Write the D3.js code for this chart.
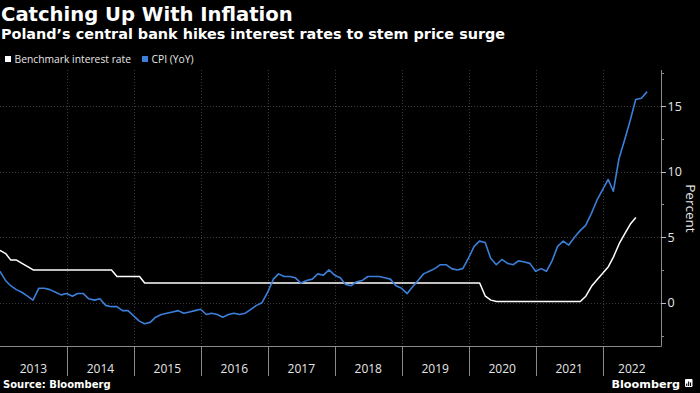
<!DOCTYPE html>
<html><head><meta charset="utf-8">
<script src="https://cdn.jsdelivr.net/npm/d3@7"></script>
<style>html,body{margin:0;padding:0;background:#000;} svg{display:block;}</style>
</head><body>
<svg id="chart" width="700" height="393"></svg>
<script>
// ---------- data ----------
const titleText = "Catching Up With Inflation";
const subtitleText = "Poland’s central bank hikes interest rates to stem price surge";
const seriesNames = ["Benchmark interest rate", "CPI (YoY)"];
const yearLabels = ["2013","2014","2015","2016","2017","2018","2019","2020","2021","2022"];
const yMajorTicks = [0, 5, 10, 15];
const yMinorTicks = [-2.5, 2.5, 7.5, 12.5, 17.5];
const yAxisTitle = "Percent";
const sourceText = "Source: Bloomberg";

// CPI YoY, monthly, first month Dec 2012 (plotted at month end)
const cpiFirstMonth = [2012, 11];
const cpiValues = [
  2.4,
  1.7, 1.3, 1.0, 0.8, 0.5, 0.2, 1.1, 1.1, 1.0, 0.8, 0.6, 0.7,
  0.5, 0.7, 0.7, 0.3, 0.2, 0.3, -0.2, -0.3, -0.3, -0.6, -0.6, -1.0,
  -1.4, -1.6, -1.5, -1.1, -0.9, -0.8, -0.7, -0.6, -0.8, -0.7, -0.6, -0.5,
  -0.9, -0.8, -0.9, -1.1, -0.9, -0.8, -0.9, -0.8, -0.5, -0.2, 0.0, 0.8,
  1.8, 2.2, 2.0, 2.0, 1.9, 1.5, 1.7, 1.8, 2.2, 2.1, 2.5, 2.1,
  1.9, 1.4, 1.3, 1.6, 1.7, 2.0, 2.0, 2.0, 1.9, 1.8, 1.3, 1.1,
  0.7, 1.2, 1.7, 2.2, 2.4, 2.6, 2.9, 2.9, 2.6, 2.5, 2.6, 3.4,
  4.3, 4.7, 4.6, 3.4, 2.9, 3.3, 3.0, 2.9, 3.2, 3.1, 3.0, 2.4,
  2.6, 2.4, 3.2, 4.3, 4.7, 4.4, 5.0, 5.5, 5.9, 6.8, 7.8, 8.6,
  9.4, 8.5, 11.0, 12.4, 13.9, 15.5, 15.6, 16.1
];

// Benchmark rate, monthly, first month Jan 2013 (plotted at month start)
const rateFirstMonth = [2013, 0];
const rateValues = [
  4.0, 3.75, 3.25, 3.25, 3.0, 2.75, 2.5, 2.5, 2.5, 2.5, 2.5, 2.5,
  2.5, 2.5, 2.5, 2.5, 2.5, 2.5, 2.5, 2.5, 2.5, 2.0, 2.0, 2.0,
  2.0, 2.0, 1.5, 1.5, 1.5, 1.5, 1.5, 1.5, 1.5, 1.5, 1.5, 1.5,
  1.5, 1.5, 1.5, 1.5, 1.5, 1.5, 1.5, 1.5, 1.5, 1.5, 1.5, 1.5,
  1.5, 1.5, 1.5, 1.5, 1.5, 1.5, 1.5, 1.5, 1.5, 1.5, 1.5, 1.5,
  1.5, 1.5, 1.5, 1.5, 1.5, 1.5, 1.5, 1.5, 1.5, 1.5, 1.5, 1.5,
  1.5, 1.5, 1.5, 1.5, 1.5, 1.5, 1.5, 1.5, 1.5, 1.5, 1.5, 1.5,
  1.5, 1.5, 1.5, 0.5, 0.2, 0.1, 0.1, 0.1, 0.1, 0.1, 0.1, 0.1,
  0.1, 0.1, 0.1, 0.1, 0.1, 0.1, 0.1, 0.1, 0.1, 0.5, 1.25, 1.75,
  2.25, 2.75, 3.5, 4.5, 5.25, 6.0, 6.5
];

const xDomain = [new Date(2013, 0, 1), new Date(2022, 10, 15)];
const yDomain = [-3.3, 17.75];

// ---------- chart ----------
const svg = d3.select("#chart");
const plot = { left: 0, right: 661, top: 70, bottom: 346 };
const x = d3.scaleTime().domain(xDomain).range([plot.left, plot.right]);
const y = d3.scaleLinear().domain(yDomain).range([plot.bottom, plot.top]);

const cpiData = cpiValues.map((v, i) => ({ d: new Date(cpiFirstMonth[0], cpiFirstMonth[1] + i + 1, 0), v }));
const rateData = rateValues.map((v, i) => ({ d: new Date(rateFirstMonth[0], rateFirstMonth[1] + i, 1), v }));

const gridColor = "#3a3a3a";
const axisColor = "#8a8a8a";
const textColor = "#e6e6e6";
const blue = "#3b7fd9";

// horizontal grid
svg.append("g").selectAll("line").data(yMajorTicks).join("line")
  .attr("x1", plot.left).attr("x2", plot.right)
  .attr("y1", d => Math.round(y(d)) + 0.5).attr("y2", d => Math.round(y(d)) + 0.5)
  .attr("stroke", gridColor).attr("stroke-width", 1).attr("stroke-dasharray", "1,2");

// vertical grid at year starts
const yearStarts = yearLabels.map(s => new Date(+s, 0, 1));
svg.append("g").selectAll("line").data(yearStarts.slice(1)).join("line")
  .attr("x1", d => Math.round(x(d)) + 0.5).attr("x2", d => Math.round(x(d)) + 0.5)
  .attr("y1", plot.top).attr("y2", plot.bottom)
  .attr("stroke", gridColor).attr("stroke-width", 1).attr("stroke-dasharray", "1,2");

// lines
const line = d3.line().x(d => x(d.d)).y(d => y(d.v)).curve(d3.curveLinear);
svg.append("path").datum(rateData).attr("d", line)
  .attr("fill", "none").attr("stroke", "#ffffff").attr("stroke-width", 1.5).attr("stroke-linejoin", "round");
svg.append("path").datum(cpiData).attr("d", line)
  .attr("fill", "none").attr("stroke", blue).attr("stroke-width", 1.6).attr("stroke-linejoin", "round");

// x axis baseline
svg.append("line").attr("x1", plot.left).attr("x2", plot.right + 0.5)
  .attr("y1", plot.bottom + 0.5).attr("y2", plot.bottom + 0.5)
  .attr("stroke", axisColor).attr("stroke-width", 1);
// year separators
svg.append("g").selectAll("line").data(yearStarts.slice(1)).join("line")
  .attr("x1", d => Math.round(x(d)) + 0.5).attr("x2", d => Math.round(x(d)) + 0.5)
  .attr("y1", plot.bottom).attr("y2", plot.bottom + 30)
  .attr("stroke", axisColor).attr("stroke-width", 1);
// year labels
svg.append("g").selectAll("text").data(yearLabels).join("text")
  .attr("x", (s, i) => {
    const a = x(yearStarts[i]);
    const b = i < yearLabels.length - 1 ? x(yearStarts[i + 1]) : plot.right;
    return (Math.max(a, plot.left) + Math.min(b, plot.right)) / 2;
  })
  .attr("y", 372.5)
  .attr("text-anchor", "middle")
  .attr("fill", textColor).attr("font-family", "Open Sans, sans-serif").attr("font-size", 12)
  .text(d => d);

// y axis
const yAxis = svg.append("g");
yAxis.append("line").attr("x1", plot.right + 0.5).attr("x2", plot.right + 0.5)
  .attr("y1", plot.top).attr("y2", plot.bottom + 0.5)
  .attr("stroke", axisColor).attr("stroke-width", 1);
yAxis.selectAll(".maj").data(yMajorTicks).join("line").attr("class", "maj")
  .attr("x1", plot.right).attr("x2", plot.right + 5)
  .attr("y1", d => Math.round(y(d)) + 0.5).attr("y2", d => Math.round(y(d)) + 0.5)
  .attr("stroke", "#bbbbbb");
yAxis.selectAll(".min").data(yMinorTicks).join("line").attr("class", "min")
  .attr("x1", plot.right).attr("x2", plot.right + 3)
  .attr("y1", d => Math.round(y(d)) + 0.5).attr("y2", d => Math.round(y(d)) + 0.5)
  .attr("stroke", axisColor);
yAxis.selectAll("text").data(yMajorTicks).join("text")
  .attr("x", plot.right + 6.5).attr("y", d => y(d)).attr("dy", "0.36em")
  .attr("fill", textColor).attr("font-family", "Open Sans, sans-serif").attr("font-size", 12.5)
  .text(d => d);
svg.append("text")
  .attr("transform", `translate(686, ${y(7.5) + 4}) rotate(90)`)
  .attr("text-anchor", "middle")
  .attr("fill", textColor).attr("font-family", "Open Sans, sans-serif").attr("font-size", 13.5)
  .text(yAxisTitle);

// titles
svg.append("text").attr("x", 1).attr("y", 21)
  .attr("fill", "#fff").attr("font-family", "DejaVu Sans, sans-serif").attr("font-weight", "bold").attr("font-size", 19.6)
  .text(titleText);
svg.append("text").attr("x", 1).attr("y", 38.5)
  .attr("fill", "#fff").attr("font-family", "DejaVu Sans, sans-serif").attr("font-weight", "bold").attr("font-size", 14.4)
  .text(subtitleText);

// legend
const legendColors = ["#ffffff", blue];
const legendX = [5, 142];
const lg = svg.append("g").selectAll("g").data(seriesNames).join("g")
  .attr("transform", (d, i) => `translate(${legendX[i]}, 56)`);
lg.append("rect").attr("width", 6).attr("height", 6).attr("fill", (d, i) => legendColors[i]);
lg.append("text").attr("x", 9.5).attr("y", 6.5)
  .attr("fill", textColor).attr("font-family", "Open Sans, sans-serif").attr("font-size", 10.3)
  .text(d => d);

// source
svg.append("text").attr("x", 3).attr("y", 388)
  .attr("fill", "#fff").attr("font-family", "DejaVu Sans, sans-serif").attr("font-weight", "bold").attr("font-size", 10)
  .text(sourceText);

// Bloomberg logo
svg.append("text").attr("x", 680).attr("y", 387.5).attr("text-anchor", "end")
  .attr("fill", "#fff").attr("font-family", "DejaVu Sans, sans-serif").attr("font-weight", "bold").attr("font-size", 11.2)
  .text("Bloomberg");
const icon = svg.append("g").attr("transform", "translate(685, 379)");
icon.append("rect").attr("width", 7.5).attr("height", 8).attr("rx", 1).attr("fill", "#fff");
icon.selectAll(".bar").data([2.5, 4.5, 3.5]).join("rect").attr("class", "bar")
  .attr("x", (d, i) => 1.2 + i * 1.9).attr("y", d => 7 - d).attr("width", 1.1).attr("height", d => d).attr("fill", "#000");
</script>
</body></html>
